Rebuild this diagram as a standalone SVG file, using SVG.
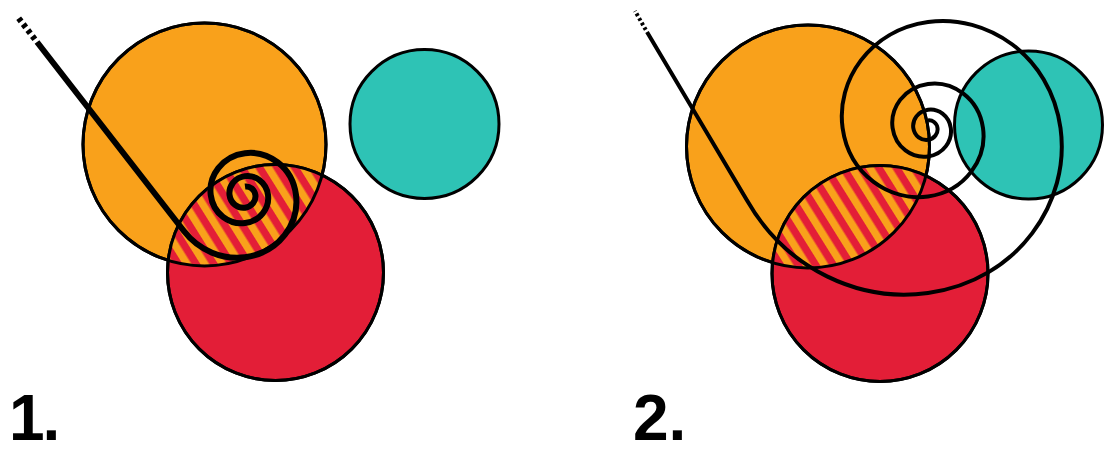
<svg xmlns="http://www.w3.org/2000/svg" width="1108" height="454" viewBox="0 0 1108 454">
<style>
.orange{fill:#F9A11B}
.red{fill:#E31E37}
.teal{fill:#2EC3B5}
.ol{stroke:#000;stroke-width:3}
.nofill{fill:none}
.sp1{fill:none;stroke:#000;stroke-width:6;stroke-linejoin:round}
.sp2{fill:none;stroke:#000;stroke-width:4;stroke-linejoin:round}
.d1{fill:none;stroke:#000;stroke-width:6;stroke-dasharray:4 3.5;stroke-dashoffset:4}
.d2{fill:none;stroke:#000;stroke-width:4;stroke-dasharray:2.8 2.5;stroke-dashoffset:2.8}
.lbl{font-family:"Liberation Sans",Arial,sans-serif;font-weight:bold;font-size:64px;fill:#000}
</style>
<defs>
<pattern id="hatch" patternUnits="userSpaceOnUse" width="15" height="15" patternTransform="rotate(-32)">
<rect width="15" height="15" fill="#E31E37"/>
<rect width="7.5" height="15" fill="#F9A11B"/>
</pattern>
<clipPath id="clipRed1"><circle cx="275.5" cy="272.5" r="108"/></clipPath>
<clipPath id="clipRed2"><circle cx="880" cy="273.5" r="108"/></clipPath>
</defs>
<rect width="1108" height="454" fill="#fff"/>

<g id="p1-orange"><circle class="orange ol" cx="204.5" cy="144.5" r="121.5"/></g>
<g id="p1-teal"><circle class="teal ol" cx="424.5" cy="124" r="74.5"/></g>
<g id="p1-red"><circle class="red ol" cx="275.5" cy="272.5" r="108"/></g>
<g id="p1-overlap">
<circle cx="204.5" cy="144.5" r="121.5" fill="url(#hatch)" clip-path="url(#clipRed1)"/>
<circle class="nofill ol" cx="204.5" cy="144.5" r="121.5"/>
<circle class="nofill ol" cx="275.5" cy="272.5" r="108"/>
</g>

<g id="p2-orange"><circle class="orange ol" cx="808" cy="146.5" r="121.5"/></g>
<g id="p2-teal"><circle class="teal ol" cx="1028.5" cy="125" r="74"/></g>
<g id="p2-red"><circle class="red ol" cx="880" cy="273.5" r="108"/></g>
<g id="p2-overlap">
<circle cx="808" cy="146.5" r="121.5" fill="url(#hatch)" clip-path="url(#clipRed2)"/>
<circle class="nofill ol" cx="808" cy="146.5" r="121.5"/>
<circle class="nofill ol" cx="880" cy="273.5" r="108"/>
</g>

<g id="connectors">
<path id="spiral1" class="sp1" d="M 245 186.48 C 249.71 185.88 254.66 189.26 255.39 195 C 256.12 200.74 252 206.79 245 207.68 C 238 208.57 230.61 203.54 229.53 195 C 228.45 186.46 234.58 177.45 245 176.13 C 255.42 174.81 266.41 182.29 268.02 195 C 269.63 207.71 260.51 221.13 245 223.09 C 229.49 225.05 213.13 213.93 210.73 195 C 208.33 176.07 221.91 156.12 245 153.2 C 268.09 150.28 292.44 166.83 296 195 C 299.56 223.17 279.35 252.85 245 257.2 C 222.97 259.99 199.37 251.03 183.88 231 L 37 42"/>
<path class="d1" d="M 37 42 L 17.4 16.6"/>
<path id="spiral2" class="sp2" d="M 928 120.4 C 932.2 119.81 936.77 122.75 937.5 128 C 938.23 133.25 934.52 138.89 928 139.8 C 921.48 140.71 914.44 136.12 913.3 128 C 912.16 119.88 917.89 111.11 928 109.7 C 938.11 108.29 949.04 115.41 950.8 128 C 952.56 140.59 943.69 154.2 928 156.4 C 912.31 158.6 895.34 147.55 892.6 128 C 889.86 108.45 903.64 87.31 928 83.9 C 952.36 80.49 978.75 97.62 983 128 C 987.25 158.38 965.83 191.2 928 196.5 C 890.17 201.8 849.2 175.17 842.6 128 C 836 80.83 869.46 30.19 928 22 C 986.54 13.81 1050.26 54.82 1060.5 128 C 1070.74 201.18 1019.13 280.25 928 293 C 860.42 302.46 786.72 270.17 746.8 200.1 L 647 32"/>
<path class="d2" d="M 647 32 L 635 11"/>
</g>

<g id="labels">
<text class="lbl" x="9" y="440" letter-spacing="-2">1.</text>
<text class="lbl" x="633" y="440">2.</text>
</g>
</svg>
